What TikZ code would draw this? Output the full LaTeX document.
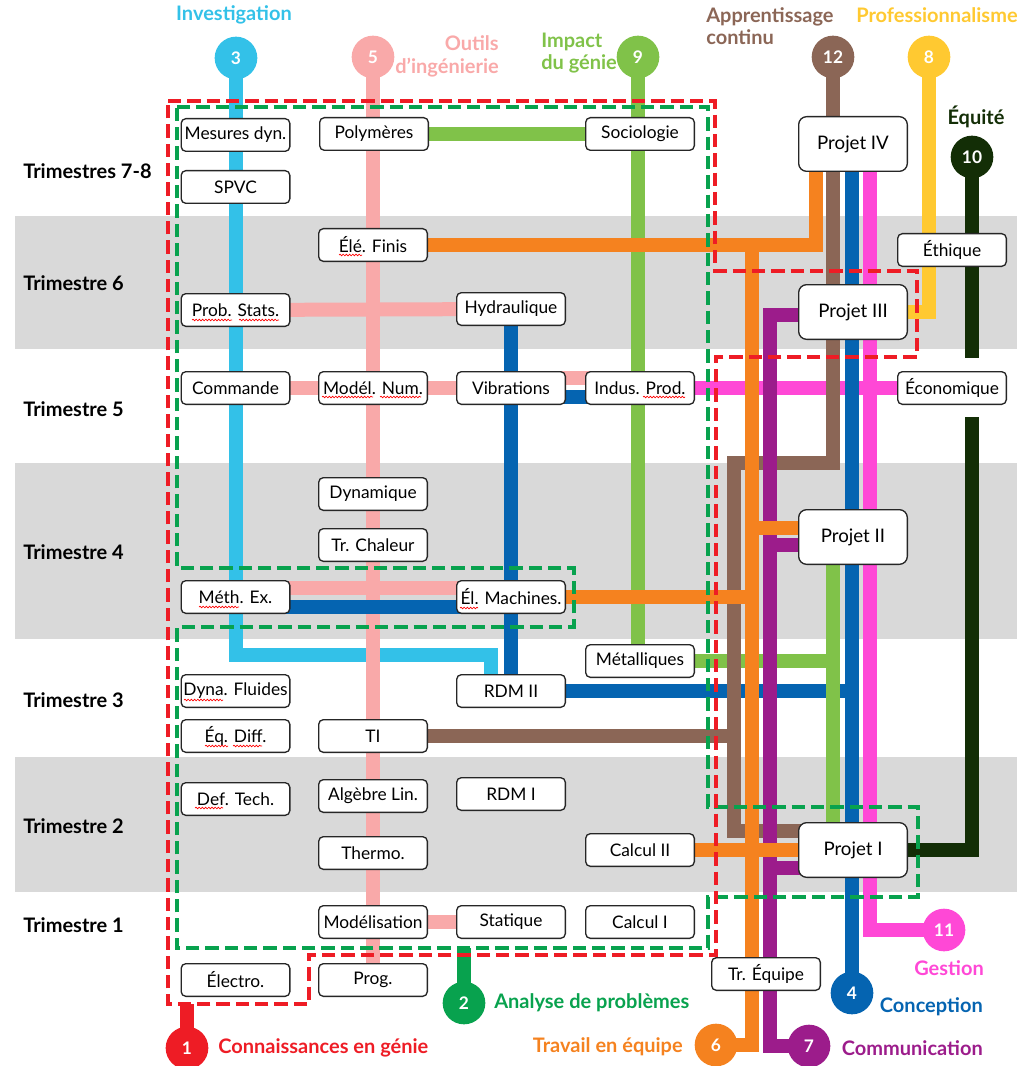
\documentclass[tikz,border=0pt]{standalone}
\usepackage{fontspec}
\setmainfont{Lato}
\usetikzlibrary{decorations.pathmorphing}
\pgfdeclarelayer{bg}
\pgfdeclarelayer{lines}
\pgfdeclarelayer{dash}
\pgfsetlayers{bg,lines,dash,main}
\definecolor{cInv}{HTML}{33C1E8}
\definecolor{cOut}{HTML}{F9A9A9}
\definecolor{cImp}{HTML}{80C249}
\definecolor{cApp}{HTML}{8B6656}
\definecolor{cPro}{HTML}{FFC931}
\definecolor{cEqu}{HTML}{132E06}
\definecolor{cGes}{HTML}{FF48D6}
\definecolor{cCon}{HTML}{0564B1}
\definecolor{cCom}{HTML}{9C1C8B}
\definecolor{cTra}{HTML}{F5821F}
\definecolor{cAna}{HTML}{08A24E}
\definecolor{cCnn}{HTML}{EE1C25}
\definecolor{band}{HTML}{D9D9D9}
\tikzset{
 box/.style={draw=black!85, line width=1pt, fill=white, rounded corners=3.5pt,
   minimum width=81.5pt, minimum height=24.5pt, inner sep=0pt, font=\fontsize{13}{15}\selectfont},
 proj/.style={box, minimum height=41pt, rounded corners=6pt, font=\fontsize{14}{16}\selectfont},
 ln/.style={line width=10.5pt, line join=miter},
 dsh/.style={line width=3pt, dash pattern=on 10pt off 4.5pt, line join=miter},
 bub/.style={circle, minimum size=32pt, inner sep=0pt, text=white, font=\bfseries\fontsize{13}{13}\selectfont},
 lbl/.style={font=\bfseries\fontsize{15}{17}\selectfont, inner sep=0pt},
 tri/.style={font=\bfseries\fontsize{15}{17}\selectfont, anchor=west, inner sep=0pt},
 wav/.style={draw=red, line width=0.5pt, decorate, decoration={snake, amplitude=0.6pt, segment length=2.4pt}}
}
\begin{document}
\begin{tikzpicture}[x=0.75pt,y=-0.75pt]
\useasboundingbox (0,0) rectangle (1017,1066);
\begin{pgfonlayer}{bg}
\fill[band] (15,216) rectangle (1017,349);
\fill[band] (15,463) rectangle (1017,639);
\fill[band] (15,757) rectangle (1017,892);
\end{pgfonlayer}
% semester labels
\node[tri] (t78) at (23,171) {Trimestres 7-8};
\node[tri] (t6) at (23,283) {Trimestre 6};
\node[tri] (t5) at (23,409) {Trimestre 5};
\node[tri] (t4) at (23,552) {Trimestre 4};
\node[tri] (t3) at (23,700) {Trimestre 3};
\node[tri] (t2) at (23,826) {Trimestre 2};
\node[tri] (t1) at (23,925) {Trimestre 1};
% boxes column 1
\node[box] (mes) at (235.5,135) {Mesures dyn.};
\node[box] (spvc) at (235.5,187) {SPVC};
\node[box] (prob) at (235.5,310) {Prob. Stats.};
\node[box] (cmd) at (235.5,388) {Commande};
\node[box] (meth) at (235.5,597) {Méth. Ex.};
\node[box] (dynf) at (235.5,691) {Dyna. Fluides};
\node[box] (eqd) at (235.5,736) {Éq. Diff.};
\node[box] (deft) at (235.5,799) {Def. Tech.};
\node[box] (elec) at (235.5,980) {Électro.};
% column 2
\node[box] (poly) at (374,134) {Polymères};
\node[box] (elef) at (373,245) {Élé. Finis};
\node[box] (mnum) at (373,388) {Modél. Num.};
\node[box] (dyn) at (373,494) {Dynamique};
\node[box] (trch) at (373,545) {Tr. Chaleur};
\node[box] (ti) at (373,736) {TI};
\node[box] (alg) at (373,796) {Algèbre Lin.};
\node[box] (thermo) at (373,853) {Thermo.};
\node[box] (modl) at (373,922) {Modélisation};
\node[box] (prog) at (373,980) {Prog.};
% column 3
\node[box] (hyd) at (511,309) {Hydraulique};
\node[box] (vib) at (511,388) {Vibrations};
\node[box] (elm) at (511,597) {Él. Machines.};
\node[box] (rdm2) at (511,691) {RDM II};
\node[box] (rdm1) at (511,794) {RDM I};
\node[box] (stat) at (511,922) {Statique};
% column 4
\node[box] (soc) at (640,134) {Sociologie};
\node[box] (ind) at (640,388) {Indus. Prod.};
\node[box] (met) at (640,661) {Métalliques};
\node[box] (cal2) at (640,850) {Calcul II};
\node[box] (cal1) at (640,922) {Calcul I};
% projects
\node[proj] (pj4) at (853,144) {Projet IV};
\node[proj] (pj3) at (853,312) {Projet III};
\node[proj] (pj2) at (853,537) {Projet II};
\node[proj] (pj1) at (853,850) {Projet I};
\node[box] (eth) at (952,250) {Éthique};
\node[box] (eco) at (952,388) {Économique};
\node[box] (treq) at (766,974) {Tr. Équipe};
% bubbles
\node[bub,fill=cInv] (b3) at (236,58) {3};
\node[bub,fill=cOut] (b5) at (373,57) {5};
\node[bub,fill=cImp] (b9) at (638,57) {9};
\node[bub,fill=cApp] (b12) at (833,57) {12};
\node[bub,fill=cPro] (b8) at (929,57) {8};
\node[bub,fill=cEqu] (b10) at (972,157) {10};
\node[bub,fill=cGes] (b11) at (944,930) {11};
\node[bub,fill=cCon] (b4) at (852,993) {4};
\node[bub,fill=cTra] (b6) at (716,1045) {6};
\node[bub,fill=cCom] (b7) at (809,1046) {7};
\node[bub,fill=cAna] (b2) at (464,1003) {2};
\node[bub,fill=cCnn] (b1) at (187,1048) {1};
% titles
\node[lbl,text=cInv] (l3) at (234,15) {Investigation};
\node[lbl,text=cOut,anchor=east,align=right] (l5) at (499,56.5) {Outils\\d’ingénierie};
\node[lbl,text=cImp,anchor=west,align=left] (l9) at (541,53) {Impact\\du génie};
\node[lbl,text=cApp,anchor=west,align=left] (l12) at (706,26) {Apprentissage\\continu};
\node[lbl,text=cPro,anchor=west] (l8) at (856,15) {Professionnalisme};
\node[lbl,text=cEqu] (l10) at (976,117) {Équité};
\node[lbl,text=cGes] (l11) at (949,968) {Gestion};
\node[lbl,text=cCon,anchor=east] (l4) at (983,1007) {Conception};
\node[lbl,text=cCom,anchor=east] (l7) at (983,1048) {Communication};
\node[lbl,text=cTra,anchor=east] (l6) at (683,1047) {Travail en équipe};
\node[lbl,text=cAna,anchor=west] (l2) at (494,1003) {Analyse de problèmes};
\node[lbl,text=cCnn,anchor=west] (l1) at (218,1048) {Connaissances en génie};
% helper coordinates
\coordinate (cy1) at (236,655);
\coordinate (cy2) at (491,655);
\coordinate (g1) at (833,661);
\coordinate (br1) at (833,463);
\coordinate (br2) at (734,463);
\coordinate (br3) at (734,831);
\coordinate (br4) at (734,736);
\coordinate (bl1) at (852,691);
\coordinate (mg1) at (870,930);
\coordinate (or1) at (816,245);
\coordinate (or2) at (752,245);
\coordinate (or3) at (752,1045);
\coordinate (pu1) at (770,1046);
\coordinate (pu2) at (770,315);
\coordinate (ye1) at (929,312);
\coordinate (dg1) at (972,358);
\coordinate (dg2) at (972,417);
\coordinate (dg3) at (972,850);
\coordinate (rs) at (187,1004);
\coordinate (gs) at (464,948);
\begin{pgfonlayer}{lines}
% investigation
\draw[ln,cInv] (b3.center) -- (cy1) -- (cy2) -- (cy2 |- rdm2.north);
% outils
\draw[ln,cOut] (b5.center) -- (prog.center);
\draw[ln,cOut] (prob.center) -- (hyd.center);
\draw[ln,cOut] (cmd.center) -- (vib.center);
\draw[ln,cOut] ([yshift=7.5pt]vib.center) -- ([yshift=7.5pt]ind.center);
\draw[ln,cOut] ([yshift=6.75pt]meth.center) -- ([yshift=6.75pt]elm.center);
\draw[ln,cOut] (modl.center) -- (stat.center);
% gestion
\draw[ln,cGes] (ind.center) -- (eco.center);
\draw[ln,cGes] (pj4.center -| mg1) -- (mg1) -- (b11.center);
% conception
\draw[ln,cCon] (b4.center |- pj4.center) -- (b4.center);
\draw[ln,cCon] (hyd.center) -- (rdm2.center);
\draw[ln,cCon] ([yshift=-7.5pt]meth.center) -- ([yshift=-7.5pt]elm.center);
\draw[ln,cCon] ([yshift=-6.75pt]vib.center) -- ([yshift=-6.75pt]ind.center);
\draw[ln,cCon] (rdm2.center) -- (bl1);
% impact
\draw[ln,cImp] (b9.center) -- (b9.center |- met.north);
\draw[ln,cImp] (poly.center) -- (soc.center);
\draw[ln,cImp] (met.center) -- (g1);
\draw[ln,cImp] (g1 |- pj2.south) -- (g1 |- pj1.north);
% apprentissage
\draw[ln,cApp] (b12.center) -- (br1) -- (br2) -- (br3) -- (br3 -| pj1.center);
\draw[ln,cApp] (ti.center) -- (br4);
% communication
\draw[ln,cCom] (b7.center) -- (pu1) -- (pu2) -- (pj3.center |- pu2);
\draw[ln,cCom] (pu1 |- 0,545) -- (pj2.center |- 0,545);
\draw[ln,cCom] (pu1 |- 0,868) -- (pj1.center |- 0,868);
% travail en equipe
\draw[ln,cTra] (elef.center) -- (or1) -- (or1 |- pj4.center);
\draw[ln,cTra] (or2) -- (or3) -- (b6.center);
\draw[ln,cTra] (elm.center) -- (elm.center -| or2);
\draw[ln,cTra] (or2 |- 0,528) -- (pj2.center |- 0,528);
\draw[ln,cTra] (cal2.center) -- (pj1.center);
% professionnalisme
\draw[ln,cPro] (b8.center) -- (ye1) -- (pj3.center |- ye1);
% equite
\draw[ln,cEqu] (b10.center) -- (dg1);
\draw[ln,cEqu] (dg2) -- (dg3) -- (pj1.center);
% stubs
\draw[ln,cCnn] (rs) -- (b1.center);
\draw[ln,cAna] (gs) -- (b2.center);
\end{pgfonlayer}
\begin{pgfonlayer}{dash}
\draw[dsh,cAna] (177,107) -- (708,107) -- (708,807) -- (918,807) -- (918,897) -- (708,897) -- (708,948) -- (177,948) -- (177,627) -- (574,627) -- (574,568) -- (177,568) -- cycle;
\draw[dsh,cCnn] (168,101) -- (715,101) -- (715,271) -- (917,271) -- (917,357) -- (716,357) -- (716,955) -- (309,955) -- (309,1004) -- (168,1004) -- cycle;
\end{pgfonlayer}
% spell-check marks
\draw[wav] (192,320) -- (232,320);
\draw[wav] (239,320) -- (279,320);
\draw[wav] (339,255) -- (362,255);
\draw[wav] (322,397) -- (373,397);
\draw[wav] (380,397) -- (421,397);
\draw[wav] (199,607) -- (239,607);
\draw[wav] (184,700) -- (223,700);
\draw[wav] (205,746) -- (228,746);
\draw[wav] (233,746) -- (262,746);
\draw[wav] (195,808) -- (223,808);
\draw[wav] (460,608) -- (478,608);
\draw[wav] (643,397) -- (685,397);
\end{tikzpicture}
\end{document}
